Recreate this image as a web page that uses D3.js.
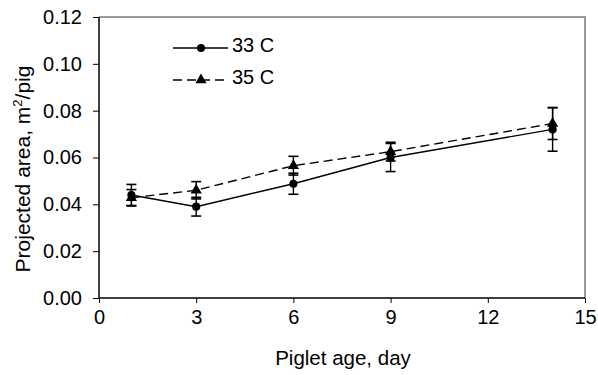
<!DOCTYPE html>
<html>
<head>
<meta charset="utf-8">
<script src="https://cdn.jsdelivr.net/npm/d3@7"></script>
<style>
  body { margin: 0; background: #fff; }
  text { font-family: Arial, "Liberation Sans", sans-serif; fill: #000; }
</style>
</head>
<body>
<div id="chart"></div>
<script>
// ---- data ----
var days = [1, 3, 6, 9, 14];
var series_names = ['33 C', '35 C'];
var area_33 = [0.0440, 0.0390, 0.0488, 0.0600, 0.0720];
var err_33  = [0.0045, 0.0040, 0.0045, 0.0060, 0.0093];
var area_35 = [0.0428, 0.0460, 0.0565, 0.0625, 0.0745];
var err_35  = [0.0035, 0.0037, 0.0040, 0.0040, 0.0068];
var x_ticks = [0, 3, 6, 9, 12, 15];
var y_ticks = [0, 0.02, 0.04, 0.06, 0.08, 0.10, 0.12];

var W = 598, H = 375;
var margin = {top: 17, right: 13, bottom: 77, left: 99};
var w = W - margin.left - margin.right;
var h = H - margin.top - margin.bottom;
var fs = '20px';

var svg = d3.select('#chart').append('svg').attr('width', W).attr('height', H);
var g = svg.append('g').attr('transform', 'translate(' + margin.left + ',' + margin.top + ')');

var x = d3.scaleLinear().domain([0, 15]).range([0, w]);
var y = d3.scaleLinear().domain([0, 0.12]).range([h, 0]);

// plot frame (top / right in grey)
g.append('path').attr('d', 'M0,0H' + w + 'V' + h).attr('fill', 'none').attr('stroke', '#999').attr('stroke-width', 2);

var xAxis = g.append('g').attr('transform', 'translate(0,' + h + ')')
    .call(d3.axisBottom(x).tickValues(x_ticks).tickSize(6).tickPadding(6).tickFormat(d3.format('d')));
var yAxis = g.append('g')
    .call(d3.axisLeft(y).tickValues(y_ticks).tickSize(6).tickPadding(11).tickFormat(d3.format('.2f')));

[xAxis, yAxis].forEach(function (a) {
    a.selectAll('text').style('font-size', fs).style('font-family', 'Arial, "Liberation Sans", sans-serif');
    a.selectAll('line').attr('stroke', '#000');
    a.select('.domain').attr('stroke', '#000').attr('stroke-width', 1.5);
});
xAxis.selectAll('.tick line').attr('y2', 5);
xAxis.selectAll('.domain').attr('d', 'M0,0H' + w);
yAxis.selectAll('.domain').attr('d', 'M0,' + h + 'V0');

// axis titles
svg.append('text').attr('x', margin.left + w / 2 + 1).attr('y', 365)
    .attr('text-anchor', 'middle').style('font-size', '20.5px').text('Piglet age, day');

var yt = svg.append('text').attr('transform', 'translate(30,169) rotate(-90)')
    .attr('text-anchor', 'middle').style('font-size', '21px');
yt.append('tspan').text('Projected area, m');
yt.append('tspan').attr('dy', -8).style('font-size', '13px').text('2');
yt.append('tspan').attr('dy', 8).text('/pig');

// ---- series ----
var series = [
    {name: series_names[0], vals: area_33, err: err_33, dash: null, marker: d3.symbolCircle, size: 52},
    {name: series_names[1], vals: area_35, err: err_35, dash: '9,5', marker: d3.symbolTriangle, size: 55}
];

var line = d3.line().x(function (d) { return x(d[0]); }).y(function (d) { return y(d[1]); });

series.forEach(function (s) {
    var pts = days.map(function (d, i) { return [d, s.vals[i], s.err[i]]; });

    g.append('path').datum(pts).attr('d', line)
        .attr('fill', 'none').attr('stroke', '#000').attr('stroke-width', 1.4)
        .attr('stroke-dasharray', s.dash);

    var eb = g.append('g').selectAll('g').data(pts).enter().append('g');
    eb.append('line')
        .attr('x1', function (d) { return x(d[0]); }).attr('x2', function (d) { return x(d[0]); })
        .attr('y1', function (d) { return y(d[1] - d[2]); }).attr('y2', function (d) { return y(d[1] + d[2]); })
        .attr('stroke', '#000').attr('stroke-width', 1.4);
    [-1, 1].forEach(function (sgn) {
        eb.append('line')
            .attr('x1', function (d) { return x(d[0]) - 5; }).attr('x2', function (d) { return x(d[0]) + 5; })
            .attr('y1', function (d) { return y(d[1] + sgn * d[2]); }).attr('y2', function (d) { return y(d[1] + sgn * d[2]); })
            .attr('stroke', '#000').attr('stroke-width', 1.6);
    });

    g.append('g').selectAll('path').data(pts).enter().append('path')
        .attr('d', d3.symbol().type(s.marker).size(s.size))
        .attr('transform', function (d) { return 'translate(' + x(d[0]) + ',' + y(d[1]) + ')'; })
        .attr('fill', '#000');
});

// ---- legend ----
var legend = svg.append('g').attr('transform', 'translate(173,48)');
series.forEach(function (s, i) {
    var row = legend.append('g').attr('transform', 'translate(0,' + (i * 32) + ')');
    row.append('line').attr('x1', 0).attr('x2', 55).attr('y1', 0).attr('y2', 0)
        .attr('stroke', '#000').attr('stroke-width', 1.4).attr('stroke-dasharray', s.dash);
    row.append('path').attr('d', d3.symbol().type(s.marker).size(s.size))
        .attr('transform', 'translate(28,0)').attr('fill', '#000');
    row.append('text').attr('x', 59).attr('y', 4).style('font-size', fs).text(s.name);
});
</script>
</body>
</html>
